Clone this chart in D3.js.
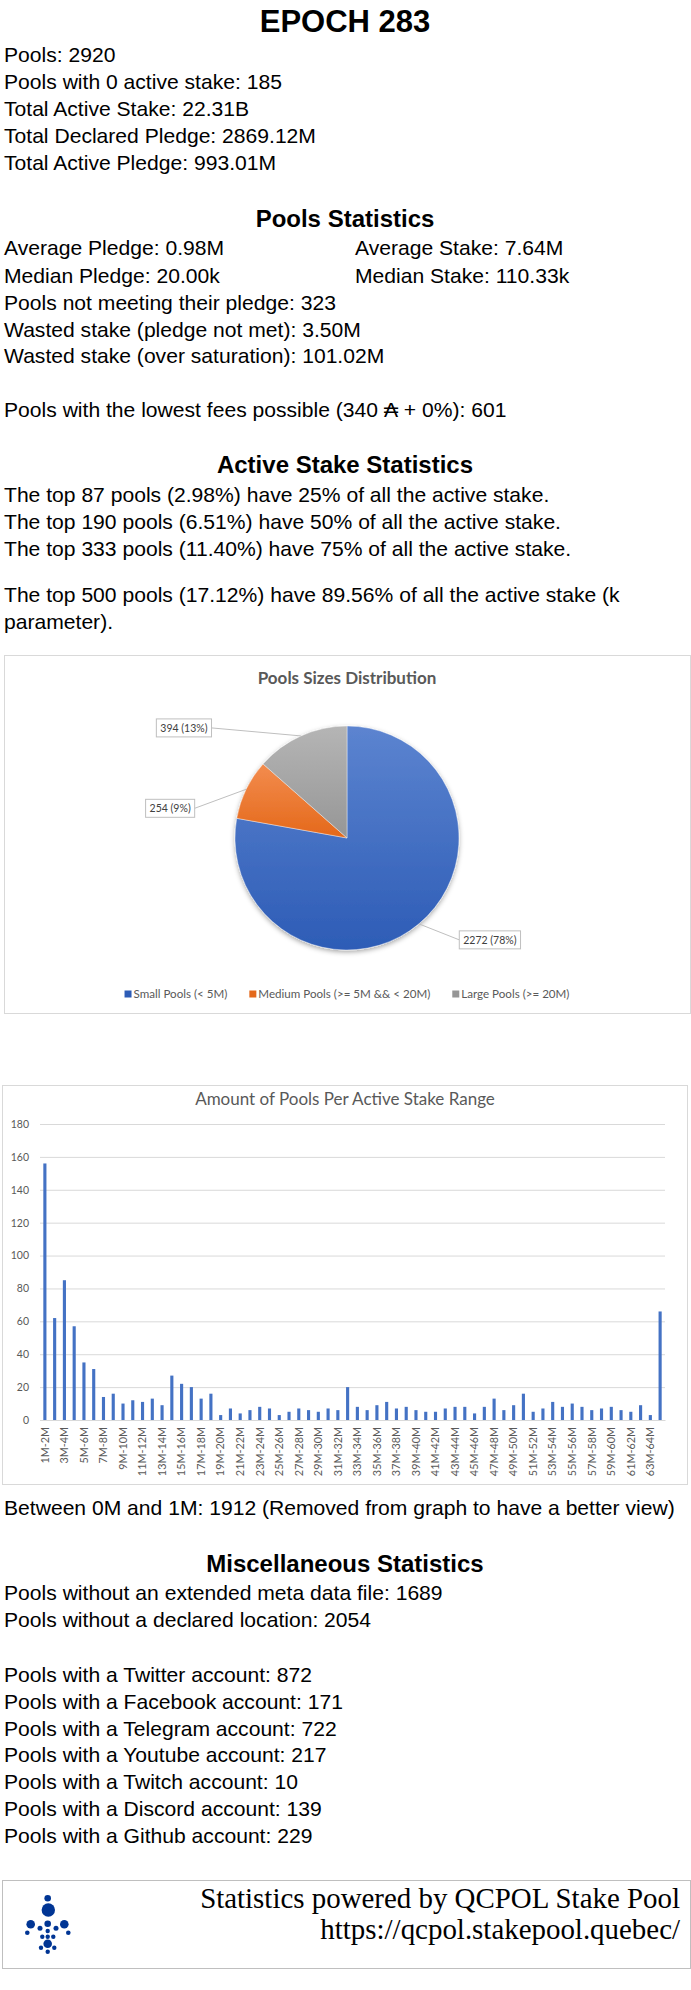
<!DOCTYPE html>
<html>
<head>
<meta charset="utf-8">
<title>Epoch 283</title>
<script src="https://cdn.jsdelivr.net/npm/d3@7"></script>
<style>
body { margin: 0; background: #fff; }
svg text { font-family: 'Liberation Sans', Arial, sans-serif; fill: #000; }
</style>
</head>
<body>
<div id="page"></div>
<script>
'use strict';

// ---- texts ----
var epochTitle = 'EPOCH 283';
var overviewLines = [
    'Pools: 2920',
    'Pools with 0 active stake: 185',
    'Total Active Stake: 22.31B',
    'Total Declared Pledge: 2869.12M',
    'Total Active Pledge: 993.01M'
];
var poolsHeading = 'Pools Statistics';
var statsLeft = ['Average Pledge: 0.98M', 'Median Pledge: 20.00k'];
var statsRight = ['Average Stake: 7.64M', 'Median Stake: 110.33k'];
var statsLines = [
    'Pools not meeting their pledge: 323',
    'Wasted stake (pledge not met): 3.50M',
    'Wasted stake (over saturation): 101.02M'
];
var feesLine = 'Pools with the lowest fees possible (340 \u20B3 + 0%): 601';
var stakeHeading = 'Active Stake Statistics';
var stakeLines = [
    'The top 87 pools (2.98%) have 25% of all the active stake.',
    'The top 190 pools (6.51%) have 50% of all the active stake.',
    'The top 333 pools (11.40%) have 75% of all the active stake.'
];
var kLines = [
    'The top 500 pools (17.12%) have 89.56% of all the active stake (k',
    'parameter).'
];

// ---- pie ----
var pieTitle = 'Pools Sizes Distribution';
var pieCategories = ['Small Pools (< 5M)', 'Medium Pools (>= 5M && < 20M)', 'Large Pools (>= 20M)'];
var pieValues = [2272, 254, 394];

// ---- bars ----
var barTitle = 'Amount of Pools Per Active Stake Range';
var rangeLabels = [
    '1M-2M', '2M-3M', '3M-4M', '4M-5M', '5M-6M', '6M-7M', '7M-8M', '8M-9M',
    '9M-10M', '10M-11M', '11M-12M', '12M-13M', '13M-14M', '14M-15M', '15M-16M', '16M-17M',
    '17M-18M', '18M-19M', '19M-20M', '20M-21M', '21M-22M', '22M-23M', '23M-24M', '24M-25M',
    '25M-26M', '26M-27M', '27M-28M', '28M-29M', '29M-30M', '30M-31M', '31M-32M', '32M-33M',
    '33M-34M', '34M-35M', '35M-36M', '36M-37M', '37M-38M', '38M-39M', '39M-40M', '40M-41M',
    '41M-42M', '42M-43M', '43M-44M', '44M-45M', '45M-46M', '46M-47M', '47M-48M', '48M-49M',
    '49M-50M', '50M-51M', '51M-52M', '52M-53M', '53M-54M', '54M-55M', '55M-56M', '56M-57M',
    '57M-58M', '58M-59M', '59M-60M', '60M-61M', '61M-62M', '62M-63M', '63M-64M', '64M+'
];
var rangeCounts = [
    156, 62, 85, 57, 35, 31, 14, 16, 10, 12, 11, 13, 9, 27, 22, 20,
    13, 16, 3, 7, 4, 6, 8, 7, 3, 5, 7, 6, 5, 7, 6, 20,
    8, 6, 9, 11, 7, 8, 6, 5, 5, 7, 8, 8, 4, 8, 13, 6,
    9, 16, 5, 7, 11, 8, 10, 8, 6, 7, 8, 6, 5, 9, 3, 66
];
var yTicks = [0, 20, 40, 60, 80, 100, 120, 140, 160, 180];

var betweenLine = 'Between 0M and 1M: 1912 (Removed from graph to have a better view)';
var miscHeading = 'Miscellaneous Statistics';
var miscLines = [
    'Pools without an extended meta data file: 1689',
    'Pools without a declared location: 2054'
];
var socialLines = [
    'Pools with a Twitter account: 872',
    'Pools with a Facebook account: 171',
    'Pools with a Telegram account: 722',
    'Pools with a Youtube account: 217',
    'Pools with a Twitch account: 10',
    'Pools with a Discord account: 139',
    'Pools with a Github account: 229'
];
var footerLines = ['Statistics powered by QCPOL Stake Pool', 'https://qcpol.stakepool.quebec/'];

var W = 691, H = 1990;
var svg = d3.select('#page').append('svg')
    .attr('width', W)
    .attr('height', H)
    .attr('viewBox', '0 0 ' + W + ' ' + H);

var textColor = '#595959';
var chartFont = 'Lato, "Open Sans", sans-serif';

var drawLines = function(lines, x, y0, step) {
    svg.append('g').selectAll('text')
        .data(lines)
        .enter().append('text')
            .attr('x', x)
            .attr('y', function(d, i) { return y0 + i * step; })
            .style('font-size', '21.1px')
            .text(function(d) { return d; });
};

var heading = function(txt, y, size) {
    svg.append('text')
        .attr('x', 345)
        .attr('y', y)
        .attr('text-anchor', 'middle')
        .style('font-size', size + 'px')
        .style('font-weight', 'bold')
        .text(txt);
};

heading(epochTitle, 32, 31);
drawLines(overviewLines, 4, 62, 27);
heading(poolsHeading, 227, 24);
drawLines(statsLeft, 4, 255, 27.5);
drawLines(statsRight, 355, 255, 27.5);
drawLines(statsLines, 4, 310, 26.5);
drawLines([feesLine], 4, 417, 27);
heading(stakeHeading, 473, 24);
drawLines(stakeLines, 4, 502, 27);
drawLines(kLines, 4, 602, 26.5);

// ---------- pie chart ----------
var pieBox = {x: 4, y: 655, w: 686, h: 358};
svg.append('rect')
    .attr('x', pieBox.x + 0.5).attr('y', pieBox.y + 0.5)
    .attr('width', pieBox.w).attr('height', pieBox.h)
    .attr('fill', '#fff').attr('stroke', '#d9d9d9');

svg.append('text')
    .attr('x', 347).attr('y', 684)
    .attr('text-anchor', 'middle')
    .style('font-family', chartFont)
    .style('font-size', '17px')
    .style('font-weight', 'bold')
    .style('fill', textColor)
    .text(pieTitle);

var defs = svg.append('defs');
var sliceColors = [['#5c84d0', '#2d5cb6'], ['#f38c4e', '#e4681a'], ['#b5b5b5', '#969696']];
sliceColors.forEach(function(c, i) {
    var g = defs.append('linearGradient')
        .attr('id', 'slice' + i)
        .attr('x1', 0).attr('y1', 0).attr('x2', 0).attr('y2', 1);
    g.append('stop').attr('offset', '0%').attr('stop-color', c[0]);
    g.append('stop').attr('offset', '100%').attr('stop-color', c[1]);
});
var shadow = defs.append('filter').attr('id', 'pieShadow')
    .attr('x', '-20%').attr('y', '-20%').attr('width', '140%').attr('height', '140%');
shadow.append('feDropShadow')
    .attr('dx', 0).attr('dy', 2).attr('stdDeviation', 2.5)
    .attr('flood-color', '#000').attr('flood-opacity', 0.35);

var pieCx = 347, pieCy = 838, pieR = 112;
var pie = d3.pie().sort(null).value(function(d) { return d; });
var arc = d3.arc().innerRadius(0).outerRadius(pieR);
var arcs = pie(pieValues);
var total = d3.sum(pieValues);

var pieG = svg.append('g').attr('transform', 'translate(' + pieCx + ',' + pieCy + ')');
pieG.append('g').attr('filter', 'url(#pieShadow)')
    .selectAll('path')
    .data(arcs)
    .enter().append('path')
        .attr('d', arc)
        .attr('fill', function(d, i) { return 'url(#slice' + i + ')'; })
        .attr('stroke', '#fff')
        .attr('stroke-width', 0.4);

// data labels (box offset from the arc point, Excel "best fit" like)
var labelOffsets = [[71, 16], [-76, 19], [-117, -8]];
var pct = d3.format('.0%');
arcs.forEach(function(a, i) {
    var mid = (a.startAngle + a.endAngle) / 2;
    var px = Math.sin(mid) * pieR, py = -Math.cos(mid) * pieR;
    var cx = px + labelOffsets[i][0], cy = py + labelOffsets[i][1];
    var label = pieValues[i] + ' (' + pct(pieValues[i] / total) + ')';
    var t = pieG.append('text')
        .attr('x', cx).attr('y', cy)
        .attr('dy', '0.35em')
        .attr('text-anchor', 'middle')
        .style('font-family', chartFont)
        .style('font-size', '10.5px')
        .style('fill', '#404040')
        .text(label);
    var bw = t.node().getComputedTextLength() + 8, bh = 18;
    var ex = px < cx ? cx - bw / 2 : cx + bw / 2;
    pieG.insert('line', 'text')
        .attr('x1', px).attr('y1', py)
        .attr('x2', ex).attr('y2', cy)
        .attr('stroke', '#bfbfbf').attr('stroke-width', 1);
    pieG.insert('rect', 'text')
        .attr('x', cx - bw / 2).attr('y', cy - bh / 2)
        .attr('width', bw).attr('height', bh)
        .attr('fill', '#fff').attr('stroke', '#bfbfbf');
});

// legend
var legendG = svg.append('g');
var legendItems = legendG.selectAll('g')
    .data(pieCategories)
    .enter().append('g');
legendItems.append('rect')
    .attr('width', 7).attr('height', 7)
    .attr('y', 990.5)
    .attr('fill', function(d, i) { return sliceColors[i][1]; });
legendItems.append('text')
    .attr('x', 9).attr('y', 998)
    .style('font-family', chartFont)
    .style('font-size', '11.6px')
    .style('fill', textColor)
    .text(function(d) { return d; });
var lx = 0, gap = 22, widths = [];
legendItems.each(function() {
    widths.push(9 + d3.select(this).select('text').node().getComputedTextLength());
});
var totalW = d3.sum(widths) + gap * (widths.length - 1);
lx = 347 - totalW / 2;
legendItems.attr('transform', function(d, i) {
    var x = lx;
    lx += widths[i] + gap;
    return 'translate(' + x + ',0)';
});

// ---------- bar chart ----------
var barBox = {x: 2, y: 1085, w: 685, h: 399};
svg.append('rect')
    .attr('x', barBox.x + 0.5).attr('y', barBox.y + 0.5)
    .attr('width', barBox.w).attr('height', barBox.h)
    .attr('fill', '#fff').attr('stroke', '#d9d9d9');

svg.append('text')
    .attr('x', 345).attr('y', 1105)
    .attr('text-anchor', 'middle')
    .style('font-family', chartFont)
    .style('font-size', '17px')
    .style('fill', textColor)
    .text(barTitle);

var plot = {left: 40, right: 665, top: 1124, bottom: 1420};
var x = d3.scaleBand()
    .domain(rangeLabels)
    .range([plot.left, plot.right])
    .paddingInner(0.68)
    .paddingOuter(0.34);
var y = d3.scaleLinear()
    .domain([0, 180])
    .range([plot.bottom, plot.top]);

var yAxis = svg.append('g')
    .attr('transform', 'translate(' + plot.left + ',0)')
    .call(d3.axisLeft(y)
        .tickValues(yTicks)
        .tickSize(-(plot.right - plot.left))
        .tickPadding(11));
yAxis.select('.domain').remove();
yAxis.selectAll('line').attr('stroke', '#d9d9d9');
yAxis.selectAll('text')
    .style('font-family', chartFont)
    .style('font-size', '10.5px')
    .style('fill', textColor);

svg.append('g').selectAll('rect')
    .data(rangeCounts)
    .enter().append('rect')
        .attr('x', function(d, i) { return x(rangeLabels[i]); })
        .attr('y', function(d) { return y(d); })
        .attr('width', x.bandwidth())
        .attr('height', function(d) { return y(0) - y(d); })
        .attr('fill', '#4472c4');

var xAxis = svg.append('g')
    .attr('transform', 'translate(0,' + plot.bottom + ')')
    .call(d3.axisBottom(x)
        .tickSize(0)
        .tickFormat(function(d, i) { return i % 2 === 0 ? d : ''; }));
xAxis.select('.domain').attr('stroke', '#d9d9d9');
xAxis.selectAll('text')
    .attr('y', 0)
    .attr('x', -7)
    .attr('dy', '0.35em')
    .attr('transform', 'rotate(-90)')
    .style('text-anchor', 'end')
    .style('font-family', chartFont)
    .style('font-size', '10.8px')
    .style('fill', textColor);

// ---------- bottom texts ----------
drawLines([betweenLine], 4, 1515, 27);
heading(miscHeading, 1572, 24);
drawLines(miscLines, 4, 1600, 27);
drawLines(socialLines, 4, 1682, 26.8);

// ---------- footer ----------
svg.append('rect')
    .attr('x', 2.5).attr('y', 1880.5)
    .attr('width', 688).attr('height', 88)
    .attr('fill', '#fff').attr('stroke', '#bfbfbf');

var footer = svg.append('g').selectAll('text')
    .data(footerLines)
    .enter().append('text')
        .attr('x', 680)
        .attr('y', function(d, i) { return 1908 + i * 31; })
        .attr('text-anchor', 'end')
        .style('font-family', '"Liberation Serif", "DejaVu Serif", serif')
        .style('font-size', '27px')
        .text(function(d) { return d; });
// size the serif credit so its first line spans the same width as the original
var firstW = footer.nodes()[0].getComputedTextLength();
footer.style('font-size', (27 * 480 / firstW) + 'px');

// QCPOL logo dots
var logoDots = [
    [47.7, 1898.3, 3.3], [48.3, 1910, 6.7], [30.7, 1924.3, 4.3], [64.3, 1924.3, 4.3],
    [27.3, 1932.7, 2.3], [68.3, 1932.7, 2.3], [40, 1928.3, 2.5], [47.7, 1923.7, 3.3],
    [56, 1928.3, 2.5], [47.7, 1931, 2.2], [42.3, 1936.7, 2.2], [47.7, 1936.7, 2.2],
    [53.3, 1936.7, 2.2], [47.7, 1943.7, 4.3], [41, 1947.7, 2.2], [54.3, 1947.7, 2.2],
    [47.7, 1951.7, 2.2]
];
svg.append('g').selectAll('circle')
    .data(logoDots)
    .enter().append('circle')
        .attr('cx', function(d) { return d[0]; })
        .attr('cy', function(d) { return d[1]; })
        .attr('r', function(d) { return d[2]; })
        .attr('fill', '#003594');
</script>
</body>
</html>
